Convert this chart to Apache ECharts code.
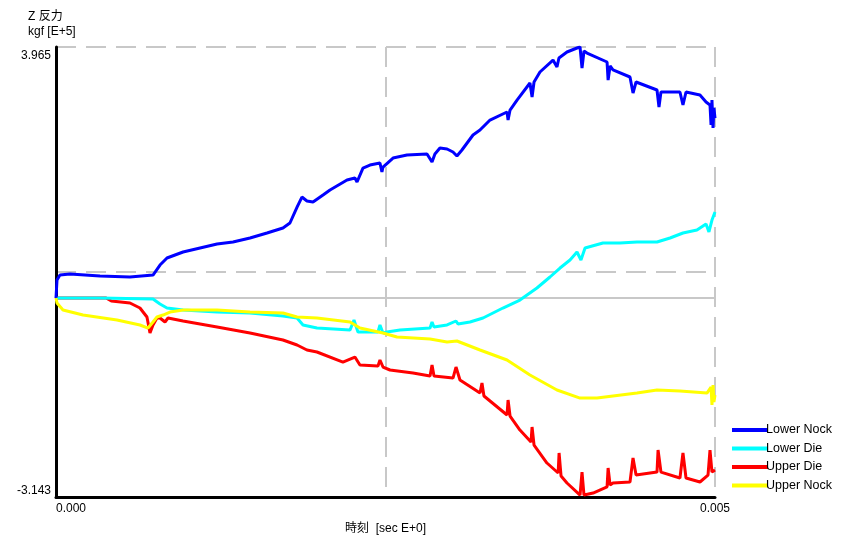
<!DOCTYPE html>
<html>
<head>
<meta charset="utf-8">
<style>html,body{margin:0;padding:0;background:#fff;}#c{width:849px;height:542px;}</style>
<script src="https://cdn.jsdelivr.net/npm/echarts/dist/echarts.min.js"></script>
</head>
<body>
<div id="c"></div>
<script>
var seriesNames = ['Lower Nock', 'Lower Die', 'Upper Die', 'Upper Nock'];
var yMin = -3.143, yMax = 3.965;
var xMin = 0, xMax = 0.005;

var lowerNockT = [0,0.0000076,0.00003,0.000106,0.000334,0.000561,0.000736,0.000789,0.000842,0.000964,0.001093,0.001222,0.001343,0.001472,0.001601,0.001722,0.001775,0.001829,0.001866,0.001904,0.00195,0.002026,0.002079,0.002208,0.002268,0.002284,0.002329,0.002382,0.002458,0.002473,0.002481,0.002557,0.002663,0.002815,0.002853,0.002875,0.002913,0.002967,0.003012,0.003042,0.00308,0.003164,0.003217,0.003293,0.003422,0.00343,0.003445,0.003498,0.003596,0.003612,0.003627,0.003672,0.003771,0.003801,0.003816,0.003877,0.003953,0.003976,0.003991,0.004006,0.004029,0.004181,0.004189,0.004204,0.004226,0.004355,0.004378,0.004401,0.00456,0.004575,0.00459,0.004605,0.004734,0.004757,0.00478,0.004886,0.004932,0.004962,0.00497,0.004977,0.004985,0.004992,0.005];
var lowerNockV = [0,0.284,0.363,0.379,0.348,0.332,0.363,0.521,0.632,0.727,0.790,0.853,0.885,0.948,1.027,1.106,1.185,1.437,1.595,1.532,1.516,1.627,1.706,1.864,1.896,1.832,2.053,2.101,2.132,1.990,2.069,2.211,2.259,2.275,2.148,2.275,2.369,2.354,2.306,2.243,2.338,2.575,2.653,2.811,2.938,2.811,2.969,3.127,3.396,3.175,3.412,3.570,3.759,3.649,3.791,3.886,3.949,3.965,3.633,3.902,3.870,3.728,3.443,3.665,3.602,3.491,3.238,3.412,3.286,3.017,3.254,3.238,3.254,3.049,3.254,3.207,3.096,3.049,2.733,3.128,2.685,3.001,2.843];

var lowerDieT = [0,0.000334,0.000736,0.000789,0.000842,0.000964,0.001222,0.001472,0.001722,0.001829,0.001874,0.00198,0.002231,0.002261,0.002291,0.002443,0.002458,0.002481,0.002511,0.00261,0.002838,0.002853,0.002868,0.002967,0.003035,0.00305,0.003141,0.00324,0.003391,0.00352,0.003649,0.003748,0.003824,0.0039,0.003953,0.003983,0.004014,0.00415,0.004279,0.004408,0.00456,0.004659,0.004757,0.004863,0.004932,0.004954,0.004977,0.005];
var lowerDieV = [0,0,-0.016,-0.095,-0.158,-0.190,-0.221,-0.237,-0.284,-0.316,-0.426,-0.474,-0.505,-0.348,-0.537,-0.537,-0.426,-0.553,-0.537,-0.505,-0.474,-0.379,-0.458,-0.426,-0.363,-0.411,-0.379,-0.316,-0.158,-0.032,0.158,0.332,0.474,0.600,0.727,0.600,0.790,0.869,0.869,0.885,0.885,0.948,1.027,1.074,1.169,1.043,1.232,1.358];

var upperDieT = [0,0.00038,0.00042,0.000561,0.000637,0.00069,0.000706,0.000713,0.000736,0.000766,0.000789,0.000827,0.00085,0.000964,0.001222,0.001472,0.001722,0.001829,0.001904,0.00198,0.002177,0.002268,0.002306,0.002443,0.002458,0.002481,0.002534,0.002709,0.002838,0.002853,0.002868,0.003012,0.003035,0.003065,0.003217,0.003232,0.003247,0.003422,0.00343,0.003445,0.00352,0.003604,0.003612,0.003627,0.003725,0.00381,0.003817,0.003832,0.003877,0.003976,0.003991,0.004006,0.004075,0.004181,0.004189,0.004204,0.004226,0.004355,0.004378,0.004401,0.00456,0.004568,0.00459,0.004734,0.004757,0.00478,0.004886,0.004947,0.004962,0.004977,0.005];
var upperDieV = [0,0,-0.047,-0.079,-0.158,-0.300,-0.474,-0.553,-0.426,-0.316,-0.316,-0.379,-0.316,-0.363,-0.458,-0.553,-0.663,-0.742,-0.821,-0.853,-1.011,-0.932,-1.058,-1.074,-0.979,-1.090,-1.137,-1.185,-1.232,-1.058,-1.232,-1.264,-1.090,-1.295,-1.501,-1.343,-1.548,-1.848,-1.611,-1.864,-2.085,-2.275,-2.037,-2.322,-2.606,-2.764,-2.448,-2.812,-2.922,-3.112,-2.749,-3.112,-3.080,-2.985,-2.685,-2.954,-2.922,-2.906,-2.527,-2.796,-2.749,-2.401,-2.749,-2.843,-2.448,-2.843,-2.906,-2.796,-2.401,-2.749,-2.717];

var upperNockT = [0,0.0000076,0.000053,0.000205,0.000463,0.000637,0.000698,0.000736,0.000766,0.000812,0.000865,0.000964,0.001222,0.001472,0.001722,0.001829,0.00198,0.002231,0.002306,0.002481,0.002587,0.002838,0.002967,0.003042,0.003217,0.003422,0.003596,0.003801,0.003976,0.004105,0.004226,0.004408,0.00456,0.004734,0.004939,0.00497,0.004977,0.004985,0.004992,0.005];
var upperNockV = [0,-0.079,-0.190,-0.269,-0.348,-0.426,-0.474,-0.379,-0.300,-0.269,-0.221,-0.190,-0.190,-0.221,-0.237,-0.300,-0.316,-0.379,-0.474,-0.553,-0.616,-0.648,-0.695,-0.679,-0.821,-0.979,-1.216,-1.453,-1.580,-1.580,-1.548,-1.501,-1.453,-1.469,-1.501,-1.406,-1.690,-1.374,-1.643,-1.532];

function pairs(t, v) { return t.map(function (x, i) { return [x, v[i]]; }); }

var FONT = '"Liberation Sans", Arial, "Noto Sans CJK JP", sans-serif';
var gridLine = { show: true, lineStyle: { color: '#c8c8c8', width: 2, type: [20, 10] } };

var chart = echarts.init(document.getElementById('c'), null, { renderer: 'canvas' });
chart.setOption({
  animation: false,
  backgroundColor: '#ffffff',
  textStyle: { fontFamily: FONT },
  title: {
    text: 'Z 反力\nkgf [E+5]',
    left: 23, top: 4,
    textStyle: { fontSize: 12, fontWeight: 'normal', color: '#000', lineHeight: 15, fontFamily: FONT }
  },
  grid: { left: 56, right: 134, top: 47, bottom: 45, containLabel: false },
  legend: {
    orient: 'vertical',
    left: 727, top: 418,
    icon: 'rect',
    itemWidth: 36, itemHeight: 4,
    itemGap: 4.5,
    data: seriesNames,
    textStyle: { fontSize: 12.5, color: '#000', lineHeight: 14, padding: [0, 0, 0, -7], fontFamily: FONT }
  },
  xAxis: {
    type: 'value',
    min: xMin, max: xMax, interval: 0.0025,
    name: '時刻  [sec E+0]',
    nameLocation: 'middle', nameGap: 26,
    nameTextStyle: { fontSize: 12, color: '#000', fontFamily: FONT },
    axisLine: { show: true, onZero: false, lineStyle: { color: '#000', width: 3 } },
    axisTick: { show: false },
    splitLine: gridLine,
    axisLabel: {
      fontSize: 12, color: '#000', margin: 6,
      alignMinLabel: 'left', alignMaxLabel: 'center',
      formatter: function (v) {
        if (Math.abs(v - xMin) < 1e-9) return '0.000';
        if (Math.abs(v - xMax) < 1e-9) return '0.005';
        return '';
      }
    }
  },
  yAxis: {
    type: 'value',
    min: yMin, max: yMax, interval: 3.554,
    axisLine: { show: true, onZero: false, lineStyle: { color: '#000', width: 3 } },
    axisTick: { show: false },
    splitLine: gridLine,
    axisLabel: {
      fontSize: 12, color: '#000', margin: 5,
      formatter: function (v) {
        if (Math.abs(v - yMax) < 1e-6) return '{t|3.965}';
        if (Math.abs(v - yMin) < 1e-6) return '{b|-3.143}';
        return '';
      },
      rich: {
        t: { fontSize: 12, color: '#000', padding: [17, 0, 0, 0] },
        b: { fontSize: 12, color: '#000', padding: [0, 0, 13, 0] }
      }
    }
  },
  series: [
    {
      name: seriesNames[0], type: 'line', z: 4, showSymbol: false, symbol: 'none',
      data: pairs(lowerNockT, lowerNockV),
      itemStyle: { color: '#0000ff' }, lineStyle: { color: '#0000ff', width: 3 }
    },
    {
      name: seriesNames[1], type: 'line', z: 3, showSymbol: false, symbol: 'none',
      data: pairs(lowerDieT, lowerDieV),
      itemStyle: { color: '#00ffff' }, lineStyle: { color: '#00ffff', width: 3 },
      markLine: {
        silent: true, symbol: 'none', label: { show: false }, z: 1,
        lineStyle: { color: '#c8c8c8', width: 2, type: 'solid' },
        data: [{ yAxis: 0 }]
      }
    },
    {
      name: seriesNames[2], type: 'line', z: 2, showSymbol: false, symbol: 'none',
      data: pairs(upperDieT, upperDieV),
      itemStyle: { color: '#ff0000' }, lineStyle: { color: '#ff0000', width: 3 }
    },
    {
      name: seriesNames[3], type: 'line', z: 5, showSymbol: false, symbol: 'none',
      data: pairs(upperNockT, upperNockV),
      itemStyle: { color: '#ffff00' }, lineStyle: { color: '#ffff00', width: 3 }
    }
  ]
});
</script>
</body>
</html>
